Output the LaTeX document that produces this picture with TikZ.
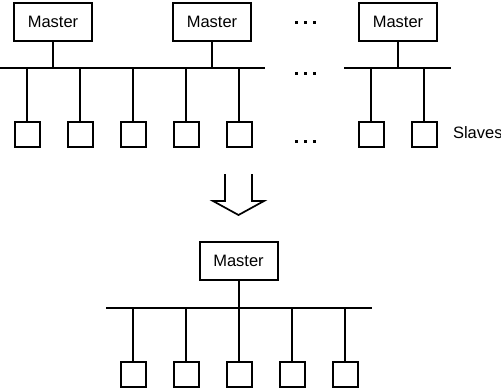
\documentclass[tikz,border=0pt]{standalone}
\usepackage{fontspec}
\setmainfont{Liberation Sans}
\begin{document}
\begin{tikzpicture}[x=1pt,y=-1pt,
  line width=2pt,
  masterbox/.style={draw,rectangle,minimum width=78pt,minimum height=38pt,inner sep=0pt,font=\fontsize{16.5}{20}\selectfont},
  slavebox/.style={draw,rectangle,minimum width=25pt,minimum height=25pt,inner sep=0pt},
  dotsq/.style={fill=black,draw=none,minimum size=3pt,inner sep=0pt,rectangle},
  lbl/.style={font=\fontsize{16.5}{20}\selectfont,inner sep=0pt}]
\useasboundingbox (0,0) rectangle (501,389);
% top masters
\node[masterbox] (m1) at (53,22) {Master};
\node[masterbox] (m2) at (212,22) {Master};
\node[masterbox] (m3) at (398,22) {Master};
% buses
\coordinate (busAL) at (0,68);
\coordinate (busAR) at (265,68);
\coordinate (busBL) at (344,68);
\coordinate (busBR) at (451,68);
\draw (busAL) -- (busAR);
\draw (busBL) -- (busBR);
\draw (m1.south) -- (m1.south |- busAL);
\draw (m2.south) -- (m2.south |- busAL);
\draw (m3.south) -- (m3.south |- busBL);
% top slaves
\foreach \i/\x in {1/27,2/80,3/133,4/186,5/239}{
  \node[slavebox] (ts\i) at (\x,134.5) {};
  \draw (ts\i.north) -- (ts\i.north |- busAL);
}
\foreach \i/\x in {6/371,7/424}{
  \node[slavebox] (ts\i) at (\x,134.5) {};
  \draw (ts\i.north) -- (ts\i.north |- busBL);
}
\node[lbl,anchor=west] (slv) at (452,133) {Slaves};
% dots
\foreach \y [count=\r] in {22,73,141}{
  \foreach \x [count=\c] in {296,305,314}{
    \node[dotsq] (d\r\c) at (\x,\y) {};
  }
}
% arrow
\draw[line width=1.7pt,line join=miter] (225,174) -- (225,201) -- (213,201) -- (238.5,215) -- (264,201) -- (252,201) -- (252,174);
% bottom
\node[masterbox] (m4) at (238.5,261) {Master};
\coordinate (busCL) at (106,308);
\coordinate (busCR) at (372,308);
\draw (busCL) -- (busCR);
\draw (m4.south) -- (m4.south |- busCL);
\foreach \i/\x in {1/133,2/186,3/239,4/292,5/345}{
  \node[slavebox] (bs\i) at (\x,374.5) {};
  \draw (bs\i.north) -- (bs\i.north |- busCL);
}
\end{tikzpicture}
\end{document}
